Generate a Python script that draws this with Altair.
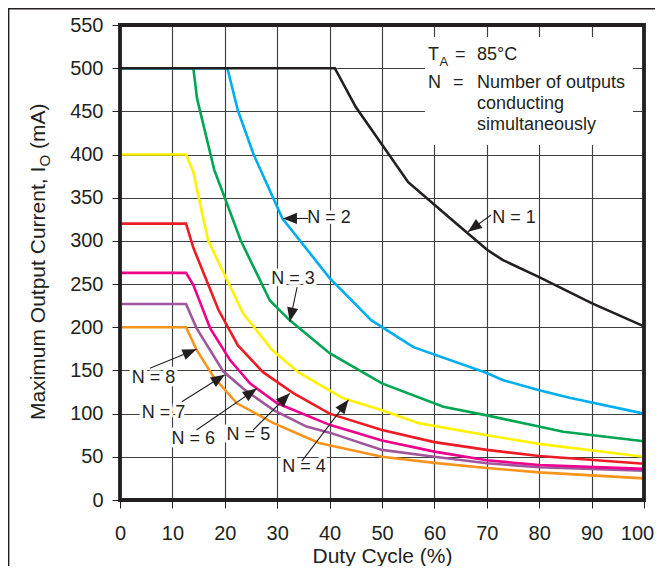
import math
import altair as alt
import pandas as pd

# ---------------- data ----------------
n1_duty = [0, 41, 45, 55, 64, 70, 73, 80, 85, 90, 100]
n1_curr = [500, 500, 455, 368, 321, 290, 278, 258, 243, 228, 201]

n2_duty = [0, 20.5, 22.5, 25.5, 31, 40, 48, 56, 70, 73, 80, 86, 100]
n2_curr = [500, 500, 451, 400, 326, 257, 208, 177, 147, 139, 127, 118, 100]

n3_duty = [0, 14, 14.7, 18, 20, 23, 28.6, 32.4, 40, 50, 61.7, 70, 84.6, 100]
n3_curr = [500, 500, 465, 382, 350, 301, 231, 208, 170, 135, 108, 98, 79, 68]

n4_duty = [0, 12.6, 14, 15, 16.8, 19.7, 23.5, 29, 34, 42.5, 50, 57, 70, 80, 100]
n4_curr = [400, 400, 380, 351, 301, 264, 216, 174, 148, 118, 104, 89, 75, 65, 50]

n5_duty = [0, 12.6, 14, 18.8, 22.5, 27.3, 33, 40, 50, 60, 70, 80, 100]
n5_curr = [320, 320, 292, 220, 179, 148, 124, 100, 81, 67, 58, 51, 42]

n6_duty = [0, 12.6, 14, 17.2, 21, 24.8, 30, 40, 50, 60, 70, 80, 100]
n6_curr = [263, 263, 249, 199, 162, 135, 112, 87, 69, 56, 46, 40.5, 36]

n7_duty = [0, 12.6, 14.6, 19.7, 23.5, 29.3, 35.6, 40, 50, 60, 70, 80, 100]
n7_curr = [227, 227, 199, 149, 129, 104, 85, 78, 58, 50, 42.5, 38, 34]

n8_duty = [0, 12.6, 14.6, 17.8, 22.3, 29.3, 38, 50, 60, 70, 80, 100]
n8_curr = [200, 200, 174, 143, 112, 89, 66, 50, 43, 37, 32, 25]

series_names = ["N = 1", "N = 2", "N = 3", "N = 4", "N = 5", "N = 6", "N = 7", "N = 8"]
series_duty = [n1_duty, n2_duty, n3_duty, n4_duty, n5_duty, n6_duty, n7_duty, n8_duty]
series_curr = [n1_curr, n2_curr, n3_curr, n4_curr, n5_curr, n6_curr, n7_curr, n8_curr]
series_colors = ["#231f20", "#00aeef", "#00a651", "#fff200",
                 "#ed1c24", "#ec008c", "#a0559c", "#f7941d"]

# annotation labels (centre positions, data units)
label_duty = [75.2, 39.9, 33.0, 35.1, 24.5, 14.0, 8.3, 6.4]
label_curr = [326.5, 326, 255.5, 38.6, 75.3, 70.3, 100.4, 141.6]

# arrows: tail -> tip (data units)
arrow_tail_duty = [70.8, 35.9, 33.8, 34.7, 25.4, 14.6, 11.8, 5.7]
arrow_tail_curr = [330, 326, 246.6, 45, 81, 81, 113.7, 152.5]
arrow_tip_duty = [66.4, 31.1, 32.4, 43.6, 32.4, 26.1, 20.0, 14.6]
arrow_tip_curr = [310.5, 326, 206.5, 116, 123.5, 129, 145, 174.5]

# condition box text
box_text = ["T", "=", "85°C", "N", "=", "Number of outputs", "conducting", "simultaneously"]
box_duty = [58.78, 63.93, 68.13, 58.78, 63.55, 68.13, 68.13, 68.13]
box_curr = [508.9, 508.9, 508.9, 477.1, 477.1, 477.1, 452.8, 428.4]
box_sub_text = ["A"]
box_sub_duty = [60.97]
box_sub_curr = [502.0]
box_bg_duty = [58.2, 97.9]
box_bg_curr = [411, 536]

x_ticks = list(range(0, 101, 10))
y_ticks = list(range(0, 551, 50))

# ---------------- chart ----------------
W, H = 524, 475
FONT = "Liberation Sans"
INK = "#231f20"
GRID = "#3f3f3f"

xscale = alt.Scale(domain=[0, 100], nice=False, zero=False)
yscale = alt.Scale(domain=[0, 550], nice=False, zero=False)
xaxis = alt.Axis(values=x_ticks, format="d", title="Duty Cycle (%)", grid=True,
                 gridColor=GRID, gridWidth=1.15, domain=False, tickSize=8,
                 tickColor=INK, tickWidth=1, labelFontSize=20, labelFont=FONT,
                 labelColor=INK, labelPadding=15, labelFlush=False,
                 labelOverlap=False,
                 labelOffset={"condition": {"test": "datum.value == 100", "value": -7},
                              "value": 0},
                 titleFont=FONT, titleFontSize=21,
                 titleFontWeight="normal", titleColor=INK, titleY=62,
                 titleBaseline="alphabetic")
yaxis = alt.Axis(values=y_ticks, format="d", title="", grid=True,
                 gridColor=GRID, gridWidth=1.15, domain=False, tickSize=8,
                 tickColor=INK, tickWidth=1, labelFontSize=20, labelFont=FONT,
                 labelColor=INK, labelPadding=9, labelFlush=False,
                 labelOverlap=False)


def X(f="duty"):
    return alt.X(f"{f}:Q", scale=xscale, axis=xaxis)


def Y(f="curr"):
    return alt.Y(f"{f}:Q", scale=yscale, axis=yaxis)


layers = []

# curves, black (N = 1) drawn last so it is on top
for name, d, c, col in reversed(list(zip(series_names, series_duty, series_curr, series_colors))):
    df = pd.DataFrame({"duty": d, "curr": c, "order": list(range(len(d)))})
    layers.append(
        alt.Chart(df).mark_line(color=col, strokeWidth=2.6, clip=False)
        .encode(x=X(), y=Y(), order="order:O")
    )

# white background of the condition box
bg = pd.DataFrame({"duty": [box_bg_duty[0]], "duty2": [box_bg_duty[1]],
                   "curr": [box_bg_curr[0]], "curr2": [box_bg_curr[1]]})
layers.append(alt.Chart(bg).mark_rect(color="white")
              .encode(x=X(), x2="duty2:Q", y=Y(), y2="curr2:Q"))

box_df = pd.DataFrame({"duty": box_duty, "curr": box_curr, "t": box_text})
layers.append(alt.Chart(box_df).mark_text(font=FONT, fontSize=18, color=INK,
                                           align="left", baseline="alphabetic")
              .encode(x=X(), y=Y(), text="t:N"))
sub_df = pd.DataFrame({"duty": box_sub_duty, "curr": box_sub_curr, "t": box_sub_text})
layers.append(alt.Chart(sub_df).mark_text(font=FONT, fontSize=13, color=INK,
                                           align="left", baseline="alphabetic")
              .encode(x=X(), y=Y(), text="t:N"))

# annotation labels with white halo
lab_df = pd.DataFrame({"duty": label_duty, "curr": label_curr, "t": series_names})
layers.append(alt.Chart(lab_df).mark_text(font=FONT, fontSize=18, color="white",
                                           stroke="white", strokeWidth=7,
                                           strokeJoin="round", align="center",
                                           baseline="middle")
              .encode(x=X(), y=Y(), text="t:N"))

# arrows
px_x = W / 100.0
px_y = H / 550.0
angles = []
for td, tv, hd, hv in zip(arrow_tail_duty, arrow_tail_curr, arrow_tip_duty, arrow_tip_curr):
    dx = (hd - td) * px_x
    dy = -(hv - tv) * px_y
    angles.append(math.degrees(math.atan2(dx, -dy)) % 360)

arr_df = pd.DataFrame({"duty": arrow_tail_duty, "curr": arrow_tail_curr,
                       "duty2": arrow_tip_duty, "curr2": arrow_tip_curr})
layers.append(alt.Chart(arr_df).mark_rule(color=INK, strokeWidth=1.1)
              .encode(x=X(), x2="duty2:Q", y=Y(), y2="curr2:Q"))
head_df = pd.DataFrame({"duty": arrow_tip_duty, "curr": arrow_tip_curr, "ang": angles})
layers.append(alt.Chart(head_df).mark_point(shape="M0,0L0.4,1L-0.4,1Z", filled=True,
                                             size=784, color=INK, opacity=1,
                                             strokeWidth=0)
              .encode(x=X(), y=Y(), angle=alt.Angle("ang:Q", scale=None)))

layers.append(alt.Chart(lab_df).mark_text(font=FONT, fontSize=18, color=INK,
                                           align="center", baseline="middle")
              .encode(x=X(), y=Y(), text="t:N"))

one = pd.DataFrame({"k": [0]})

# heavy plot frame on top of grid and curves
layers.append(alt.Chart(one).mark_rect(fillOpacity=0, stroke=INK, strokeWidth=3.8)
              .encode(x=alt.value(0), x2=alt.value(W), y=alt.value(0), y2=alt.value(H)))

# y-axis title with subscript
layers.append(alt.Chart(one).mark_text(font=FONT, fontSize=21, color=INK, angle=270,
                                        align="left", baseline="alphabetic")
              .encode(x=alt.value(-75), y=alt.value(395),
                      text=alt.value("Maximum Output Current, I")))
layers.append(alt.Chart(one).mark_text(font=FONT, fontSize=15, color=INK, angle=270,
                                        align="left", baseline="alphabetic")
              .encode(x=alt.value(-70), y=alt.value(141.5), text=alt.value("O")))
layers.append(alt.Chart(one).mark_text(font=FONT, fontSize=21, color=INK, angle=270,
                                        align="left", baseline="alphabetic")
              .encode(x=alt.value(-75), y=alt.value(124), text=alt.value("(mA)")))

# outer figure border
layers.append(alt.Chart(one).mark_rect(fillOpacity=0, stroke=INK, strokeWidth=1.4)
              .encode(x=alt.value(-111.3), x2=alt.value(560),
                      y=alt.value(-16.3), y2=alt.value(600)))

chart = (
    alt.layer(*layers)
    .properties(width=W, height=H,
                padding={"left": 112, "top": 17, "right": 11, "bottom": 66},
                autosize=alt.AutoSizeParams(type="none"),
                background="white")
    .configure_view(strokeWidth=0)
    .configure(font=FONT)
)

chart.save("out.html", embed_options={"renderer": "svg", "actions": False})
